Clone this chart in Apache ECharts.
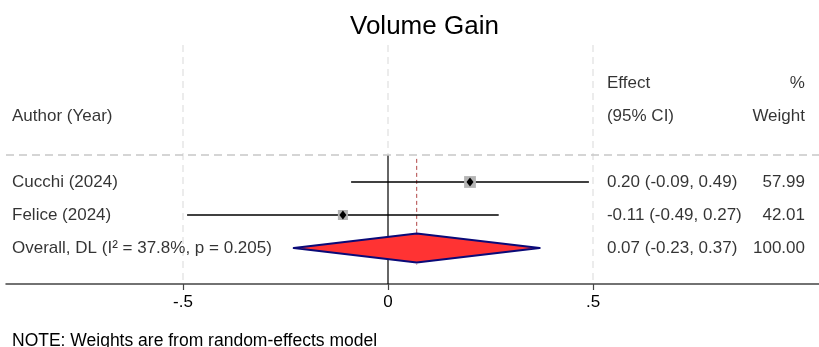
<!DOCTYPE html>
<html>
<head>
<meta charset="utf-8">
<script src="https://cdn.jsdelivr.net/npm/echarts@6/dist/echarts.min.js"></script>
<style>
  html, body { margin: 0; padding: 0; background: #fff; }
  #chart { width: 819px; height: 347px; }
</style>
</head>
<body>
<div id="chart"></div>
<script>
// study data
var studies = ['Cucchi (2024)', 'Felice (2024)'];
var effect = [0.20, -0.11];
var ciLow = [-0.09, -0.49];
var ciHigh = [0.49, 0.27];
var weight = [57.99, 42.01];

// pooled estimate
var overallEst = 0.07;
var overallLow = -0.23;
var overallHigh = 0.37;
var overallWeight = 100.00;
var i2 = 37.8;
var pValue = 0.205;

// axis ticks
var tickValues = [-0.5, 0, 0.5];
var tickLabels = ['-.5', '0', '.5'];

var FONT = 'Liberation Sans, Arial, sans-serif';
var fmt = function (v) { return v.toFixed(2); };
var ciText = function (e, l, h) { return fmt(e) + ' (' + fmt(l) + ', ' + fmt(h) + ')'; };

// column positions in axis units
var authorX = -0.917, effectX = 0.534, weightX = 1.017;
var yTop = -3.15, yBottom = 4.09, headerLineY = 0.18;
var overallRow = studies.length + 1;

var textSeries = function (data, side) {
    return {
        type: 'scatter', symbolSize: 0, silent: true, z: 5,
        data: data,
        label: {
            show: true,
            position: side,
            distance: 0,
            color: '#000',
            fontSize: 17,
            fontFamily: FONT,
            formatter: function (p) { return p.data[2]; }
        }
    };
};

var leftTexts = [[authorX, -1, 'Author (Year)'], [effectX, -2, 'Effect'], [effectX, -1, '(95% CI)']];
var rightTexts = [[weightX, -2, '%'], [weightX, -1, 'Weight']];
studies.forEach(function (s, i) {
    leftTexts.push([authorX, i + 1, s]);
    leftTexts.push([effectX, i + 1, ciText(effect[i], ciLow[i], ciHigh[i])]);
    rightTexts.push([weightX, i + 1, fmt(weight[i])]);
});
leftTexts.push([authorX, overallRow, 'Overall, DL (I\u00B2 = ' + i2.toFixed(1) + '%, p = ' + pValue.toFixed(3) + ')']);
leftTexts.push([effectX, overallRow, ciText(overallEst, overallLow, overallHigh)]);
rightTexts.push([weightX, overallRow, fmt(overallWeight)]);

var ciLines = [];
studies.forEach(function (s, i) {
    ciLines.push({
        type: 'line', silent: true, symbol: 'none', z: 3,
        data: [[ciLow[i], i + 1], [ciHigh[i], i + 1]],
        lineStyle: { color: '#000', width: 1.6 }
    });
});

var chart = echarts.init(document.getElementById('chart'));
var option = {
    animation: false,
    title: {
        text: 'Volume Gain',
        left: 345, top: 9,
        textStyle: { fontSize: 26, fontWeight: 'normal', color: '#000', fontFamily: FONT }
    },
    graphic: [{
        type: 'text', left: 12, top: 332,
        style: { text: 'NOTE: Weights are from random-effects model', fontSize: 17.5, fill: '#000', fontFamily: FONT }
    }],
    grid: { left: 6, right: 0, top: 45, bottom: 63 },
    xAxis: {
        type: 'value',
        min: -0.9317, max: 1.0512,
        splitLine: { show: false },
        axisLine: { show: true, onZero: false, lineStyle: { color: '#444', width: 1.5 } },
        axisTick: { show: true, customValues: tickValues, length: 6, lineStyle: { color: '#444', width: 1.2 } },
        axisLabel: {
            customValues: tickValues,
            margin: 10,
            fontSize: 17, color: '#000', fontFamily: FONT,
            formatter: function (v) { return tickLabels[tickValues.indexOf(Math.round(v * 10) / 10)]; }
        }
    },
    yAxis: {
        type: 'value', inverse: true, min: yTop, max: yBottom, show: false
    },
    series: [
        // light grid lines and header rule
        {
            type: 'line', silent: true, symbol: 'none', z: 1,
            data: [[0, yTop], [0, headerLineY]],
            lineStyle: { color: '#e6e6e6', width: 1.5, type: [7, 5] },
            markLine: {
                silent: true, symbol: 'none', label: { show: false },
                lineStyle: { color: '#e6e6e6', width: 1.5, type: [7, 5] },
                data: [
                    { xAxis: tickValues[0] },
                    { xAxis: tickValues[2] },
                    { yAxis: headerLineY, lineStyle: { color: '#c8c8c8', width: 1.5, type: [8, 5] } }
                ]
            }
        },
        // line of no effect
        {
            type: 'line', silent: true, symbol: 'none', z: 2,
            data: [[0, headerLineY], [0, yBottom]],
            lineStyle: { color: '#000', width: 1.2 }
        },
        // pooled estimate line
        {
            type: 'line', silent: true, symbol: 'none', z: 2,
            data: [[overallEst, 0.3], [overallEst, overallRow + 0.5]],
            lineStyle: { color: '#b04545', width: 1, type: [4, 3] }
        }
    ].concat(ciLines).concat([
        // weight boxes
        {
            type: 'scatter', silent: true, symbol: 'rect', z: 4,
            data: effect.map(function (e, i) { return [e, i + 1, weight[i]]; }),
            symbolSize: function (d) { return Math.sqrt(d[2]) * 1.55; },
            itemStyle: { color: '#b4b4b4', opacity: 1 }
        },
        // point estimates
        {
            type: 'scatter', silent: true, symbol: 'diamond', z: 6,
            data: effect.map(function (e, i) { return [e, i + 1]; }),
            symbolSize: [7, 9],
            itemStyle: { color: '#000', opacity: 1 }
        },
        // overall diamond
        {
            type: 'custom', silent: true, z: 3,
            data: [[overallEst, overallLow, overallHigh, overallRow]],
            renderItem: function (params, api) {
                var c = api.coord([api.value(0), api.value(3)]);
                var l = api.coord([api.value(1), api.value(3)]);
                var r = api.coord([api.value(2), api.value(3)]);
                var h = 14.5;
                return {
                    type: 'polygon',
                    shape: { points: [[l[0], c[1]], [c[0], c[1] - h], [r[0], c[1]], [c[0], c[1] + h]] },
                    style: { fill: '#ff3333', stroke: '#0a0a78', lineWidth: 2, lineJoin: 'round' }
                };
            }
        },
        textSeries(leftTexts, 'right'),
        textSeries(rightTexts, 'left')
    ])
};
chart.setOption(option);
</script>
</body>
</html>
